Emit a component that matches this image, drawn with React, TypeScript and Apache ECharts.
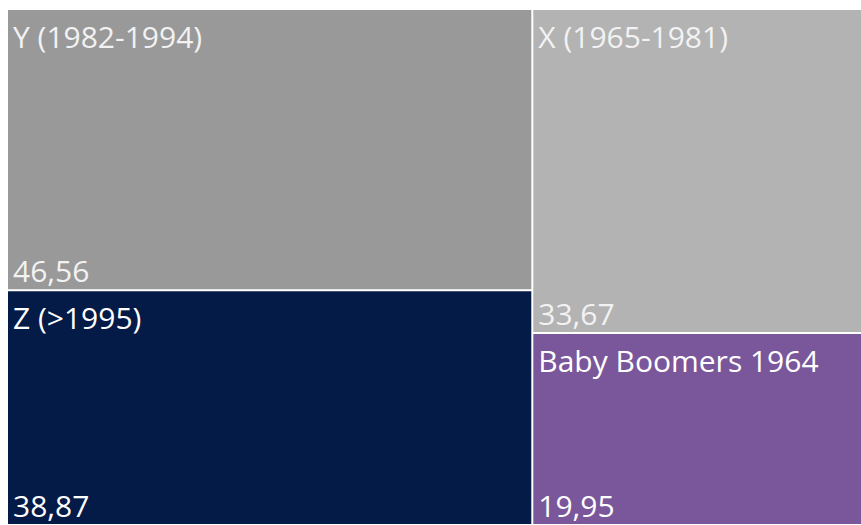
import React, { useEffect, useRef } from "react";
import * as echarts from "echarts";

const names = ["Y (1982-1994)", "Z (>1995)", "X (1965-1981)", "Baby Boomers 1964"];
const values = [46.56, 38.87, 33.67, 19.95];
const colors = ["#999999", "#041a47", "#b3b3b3", "#7a569a"];
const valueColors = ["#f2f2f2", "#ffffff", "#f2f2f2", "#ffffff"];

const fmt = (v: number) => v.toFixed(2).replace(".", ",");

export default function App() {
  const ref = useRef<HTMLDivElement>(null);
  useEffect(() => {
    if (!ref.current) return;
    const chart = echarts.init(ref.current, null, { renderer: "svg" });
    const font = "'Segoe UI', 'Open Sans', 'Noto Sans', sans-serif";
    const fontSize = 30;
    const base = {
      type: "treemap",
      left: 8,
      top: 10,
      right: 0,
      bottom: 1,
      roam: false,
      nodeClick: false,
      breadcrumb: { show: false },
      sort: "desc",
      levels: [{ itemStyle: { gapWidth: 2, borderWidth: 0 } }],
    };
    const dataA = names.map((n, i) => ({
      name: n,
      value: values[i],
      itemStyle: { color: colors[i], borderWidth: 0 },
      label: { color: valueColors[i], fontSize, fontFamily: font },
    }));
    const dataB = names.map((n, i) => ({
      name: n,
      value: values[i],
      itemStyle: { color: "rgba(0,0,0,0)", borderWidth: 0 },
      label: { color: valueColors[i], fontSize, fontFamily: font },
    }));
    chart.setOption({
      animation: false,
      series: [
        {
          ...base,
          data: dataA,
          label: {
            show: true,
            position: "insideTopLeft",
            formatter: (p: any) => p.name,
            fontFamily: font,
            fontSize,
            lineHeight: 34,
            padding: [9, 0, 0, 5],
          },
        },
        {
          ...base,
          silent: true,
          data: dataB,
          label: {
            show: true,
            position: "insideBottomLeft",
            formatter: (p: any) => fmt(p.value),
            fontFamily: font,
            fontSize,
            lineHeight: 34,
            padding: [0, 0, 2, 5],
          },
        },
      ],
    });
    return () => chart.dispose();
  }, []);
  return (
    <div
      ref={ref}
      style={{ position: "absolute", left: 0, top: 0, width: 861, height: 525 }}
    />
  );
}
